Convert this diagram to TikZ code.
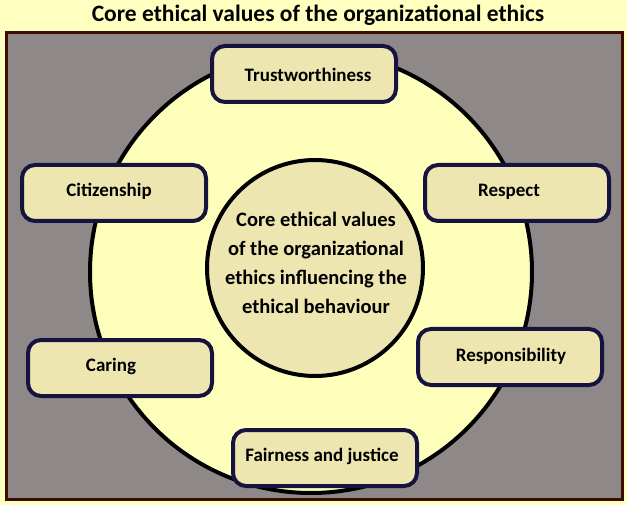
\documentclass[tikz,border=0pt]{standalone}
\usepackage{fontspec}
\setmainfont{Carlito}
\definecolor{bgyellow}{RGB}{255,255,192}
\definecolor{framegray}{RGB}{143,136,136}
\definecolor{framebrown}{RGB}{60,12,0}
\definecolor{ringyellow}{RGB}{255,255,188}
\definecolor{beige}{RGB}{238,230,176}
\definecolor{navy}{RGB}{22,20,62}
\tikzset{
  valuebox/.style={draw=navy, fill=beige, line width=4pt, rounded corners=13pt,
    minimum width=184pt, minimum height=56pt, inner sep=0pt},
  valuetext/.style={inner sep=0pt, font=\fontsize{19}{22}\selectfont\bfseries},
  hub/.style={circle, draw=black, fill=beige, line width=4pt, minimum size=216pt,
    inner sep=0pt},
  hubtext/.style={align=center, inner sep=0pt, font=\fontsize{20.5}{29}\selectfont\bfseries},
  ring/.style={circle, draw=black, fill=ringyellow, line width=4pt, minimum size=442pt, inner sep=0pt},
  titletext/.style={font=\fontsize{23.5}{28}\selectfont\bfseries}
}
\begin{document}
\begin{tikzpicture}[x=1pt,y=-1pt]
\useasboundingbox (0,0) rectangle (627,505);
\fill[bgyellow] (0,0) rectangle (627,505);
\node[titletext] (title) at (318,15) {Core ethical values of the organizational ethics};
\draw[framebrown, fill=framegray, line width=3pt] (6,33) rectangle (622,499);
\node[ring] (ring) at (311,272) {};
\node[hub] (hub) at (315,268) {};
\node[hubtext] (hubtext) at (316,263) {Core ethical values\\of the organizational\\ethics influencing the\\ethical behaviour};
\node[valuebox] (trust) at (304,74) {};
\node[valuebox] (respect) at (517,193) {};
\node[valuebox] (citizen) at (114,193) {};
\node[valuebox] (caring) at (120,368) {};
\node[valuebox] (resp) at (510,357) {};
\node[valuebox] (fair) at (325,458) {};
\node[valuetext] (trusttext) at (308,75) {Trustworthiness};
\node[valuetext] (respecttext) at (509,192) {Respect};
\node[valuetext] (citizentext) at (109,191) {Citizenship};
\node[valuetext] (caringtext) at (111,366) {Caring};
\node[valuetext] (resptext) at (511,356) {Responsibility};
\node[valuetext] (fairtext) at (322,456) {Fairness and justice};
\end{tikzpicture}
\end{document}
